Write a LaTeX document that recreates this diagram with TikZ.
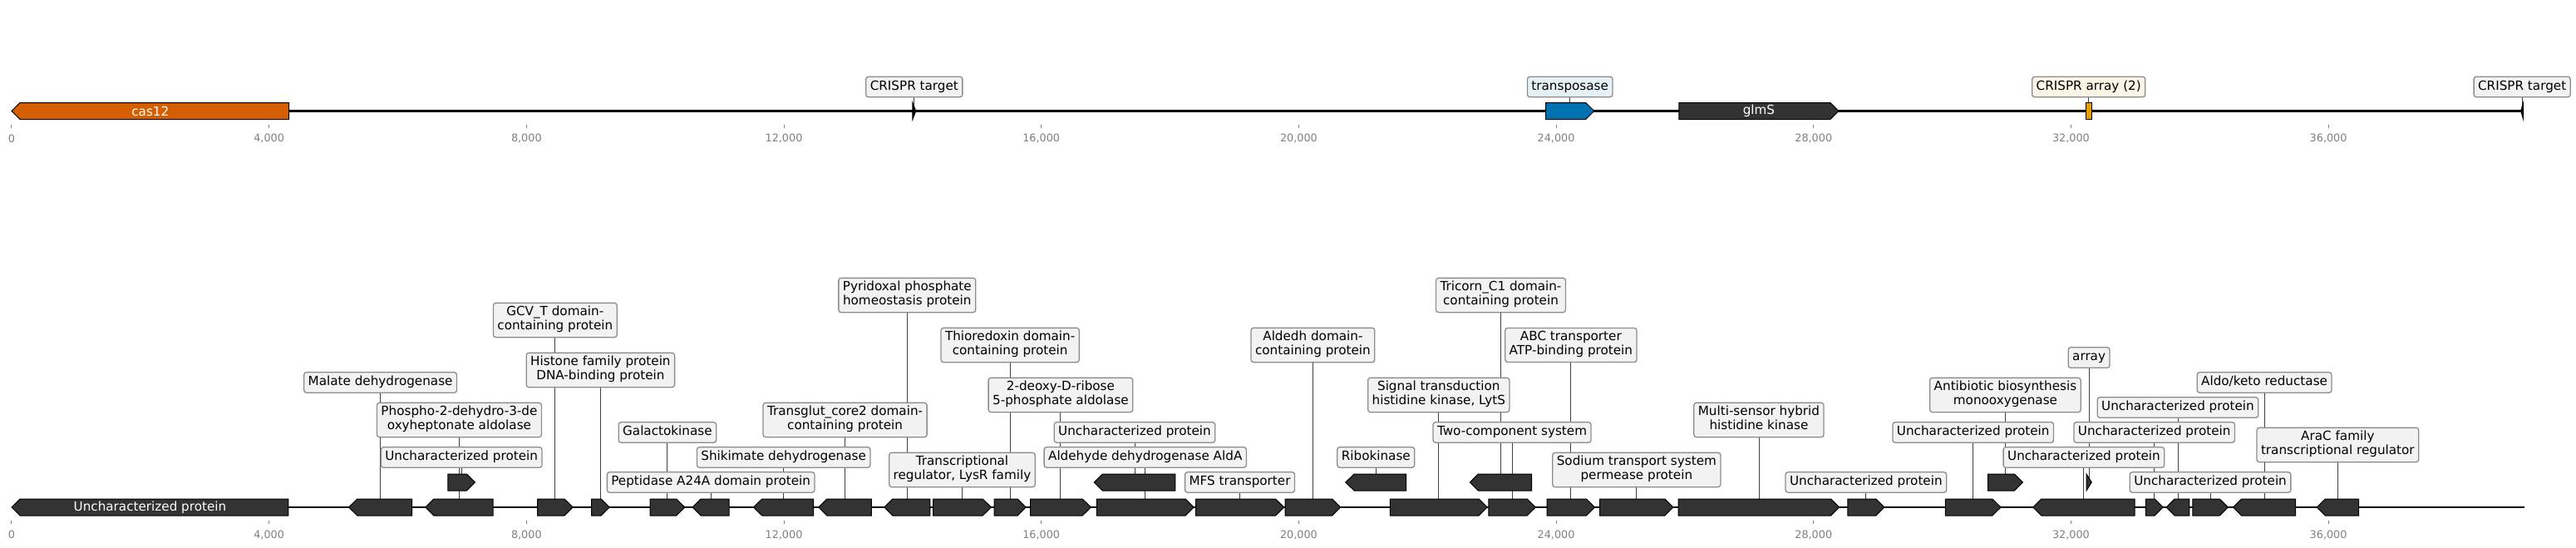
\documentclass[tikz,border=0pt]{standalone}
\usepackage{fontspec}
\setmainfont{DejaVu Sans}
\usetikzlibrary{positioning,calc}
\definecolor{genedark}{HTML}{333333}
\definecolor{casorange}{HTML}{D55E00}
\definecolor{tnpblue}{HTML}{0072B2}
\definecolor{arrayyellow}{HTML}{E69F00}
\pgfdeclarelayer{back}
\pgfsetlayers{back,main}

\begin{document}
\begin{tikzpicture}[x=77.42pt,y=-1pt,font=\fontsize{15.2}{17.5}\selectfont,
  track/.style={line width=2.5pt},
  gene/.style={draw=black,line width=1pt},
  lab/.style={draw=black!45,fill=black!5,line width=1.3pt,rounded corners=3pt,align=center,
    inner xsep=5pt,inner ysep=3.5pt,execute at begin node=\strut,execute at end node=\strut},
  stem/.style={draw=black!75,line width=0.9pt},
  tickmark/.style={draw=black!50,line width=1pt},
  ticklab/.style={text=black!50,font=\fontsize{12.8}{15}\selectfont},
  inlab/.style={text=white}]
\useasboundingbox (-0.1808,0) rectangle (39.848,659);

% axis ticks of both tracks (kb)
\foreach \k/\klab in {0/0,4/{4,000},8/{8,000},12/{12,000},16/{16,000},20/{20,000},24/{24,000},28/{28,000},32/{32,000},36/{36,000}}{
  \draw[tickmark] (\k,150) -- (\k,154);
  \node[ticklab] (topt\k) at (\k,166.5) {\klab};
  \draw[tickmark] (\k,626) -- (\k,630);
  \node[ticklab] (bott\k) at (\k,643) {\klab};
}

% top track
\draw[track] (0,133.5) -- (39.03,133.5);
\foreach \gstart/\gend/\gdir/\gname/\gcol in {0/4.31/-1/cas/casorange,14.00/14.05/1/tgtA/black,
  23.84/24.59/1/tnp/tnpblue,25.91/28.39/1/glms/genedark,32.23/32.32/0/arr/arrayyellow,38.99/39.03/-1/tgtB/black}{
  \pgfmathsetmacro\tip{min(0.13,\gend-\gstart)}
  \ifnum\gdir>0
    \draw[gene,fill=\gcol] (\gstart,123.5) -- (\gend-\tip,123.5) -- (\gend,133.5) -- (\gend-\tip,143.5) -- (\gstart,143.5) -- cycle;
  \else\ifnum\gdir<0
    \draw[gene,fill=\gcol] (\gend,123.5) -- (\gstart+\tip,123.5) -- (\gstart,133.5) -- (\gstart+\tip,143.5) -- (\gend,143.5) -- cycle;
  \else
    \draw[gene,fill=\gcol] (\gstart,123.5) rectangle (\gend,143.5);
  \fi\fi
  \coordinate (\gname) at ({(\gstart+\gend)/2},133.5);
}
\node[inlab] (casname) at (cas) {cas12};
\node[inlab] (glmsname) at (glms) {glmS};

\node[lab] (LtgtA) at (tgtA |- 0,104.5) {CRISPR target};
\node[lab,fill=tnpblue!10] (Ltnp) at (tnp |- 0,104.5) {transposase};
\node[lab,fill=arrayyellow!10] (Larr) at (arr |- 0,104.5) {CRISPR array (2)};
\node[lab] (LtgtB) at (tgtB |- 0,104.5) {CRISPR target};

% bottom track
\draw[track] (0,610) -- (39.05,610);
\foreach \gstart/\gend/\gdir/\grow/\gname in {0/4.30/-1/610/g1,5.24/6.22/-1/610/g2,6.43/7.48/-1/610/g3,
  8.17/8.72/1/610/g4,9.01/9.29/1/610/g5,9.92/10.46/1/610/g6,10.58/11.15/-1/610/g7,11.53/12.46/-1/610/g8,
  12.54/13.36/-1/610/g9,13.56/14.27/-1/610/g10,14.32/15.22/1/610/g11,15.27/15.76/1/610/g12,
  15.83/16.77/1/610/g13,16.86/18.37/1/610/g14,18.40/19.77/1/610/g15,19.79/20.65/1/610/g16,
  21.42/22.93/1/610/g17,22.95/23.68/1/610/g18,23.86/24.60/1/610/g19,24.68/25.82/1/610/g20,
  25.90/28.40/1/610/g21,28.53/29.10/1/610/g22,30.05/30.91/1/610/g23,31.41/32.99/-1/610/g24,
  33.16/33.43/1/610/g25,33.48/33.84/-1/610/g26,33.89/34.44/1/610/g27,34.52/35.49/-1/610/g28,
  35.82/36.47/-1/610/g29,
  6.78/7.20/1/580/r1,16.82/18.08/-1/580/r2,20.73/21.67/-1/580/r3,22.66/23.62/-1/580/r4,
  30.71/31.25/1/580/r5,32.24/32.32/1/580/r6}{
  \pgfmathsetmacro\tip{min(0.13,\gend-\gstart)}
  \ifnum\gdir>0
    \draw[gene,fill=genedark] (\gstart,\grow-10) -- (\gend-\tip,\grow-10) -- (\gend,\grow) -- (\gend-\tip,\grow+10) -- (\gstart,\grow+10) -- cycle;
  \else
    \draw[gene,fill=genedark] (\gend,\grow-10) -- (\gstart+\tip,\grow-10) -- (\gstart,\grow) -- (\gstart+\tip,\grow+10) -- (\gend,\grow+10) -- cycle;
  \fi
  \coordinate (\gname) at ({(\gstart+\gend)/2},\grow);
}
\node[inlab] (g1name) at (g1) {Uncharacterized protein};

\node[lab] (Lg2) at (g2 |- 0,460) {Malate dehydrogenase};
\node[lab] (Lg3) at (g3 |- 0,505) {Phospho-2-dehydro-3-de\\oxyheptonate aldolase};
\node[lab] (Lr1) at (r1 |- 0,550) {Uncharacterized protein};
\node[lab] (Lg4) at (g4 |- 0,385) {GCV\_T domain-\\containing protein};
\node[lab] (Lg5) at (g5 |- 0,445) {Histone family protein\\DNA-binding protein};
\node[lab] (Lg6) at (g6 |- 0,520) {Galactokinase};
\node[lab] (Lg7) at (g7 |- 0,580) {Peptidase A24A domain protein};
\node[lab] (Lg8) at (g8 |- 0,550) {Shikimate dehydrogenase};
\node[lab] (Lg9) at (g9 |- 0,505) {Transglut\_core2 domain-\\containing protein};
\node[lab] (Lg10) at (g10 |- 0,355) {Pyridoxal phosphate\\homeostasis protein};
\node[lab] (Lg11) at (g11 |- 0,565) {Transcriptional\\regulator, LysR family};
\node[lab] (Lg12) at (g12 |- 0,415) {Thioredoxin domain-\\containing protein};
\node[lab] (Lg13) at (g13 |- 0,475) {2-deoxy-D-ribose\\5-phosphate aldolase};
\node[lab] (Lr2) at (r2 |- 0,520) {Uncharacterized protein};
\node[lab] (Lg14) at (g14 |- 0,550) {Aldehyde dehydrogenase AldA};
\node[lab] (Lg15) at (g15 |- 0,580) {MFS transporter};
\node[lab] (Lg16) at (g16 |- 0,415) {Aldedh domain-\\containing protein};
\node[lab] (Lr3) at (r3 |- 0,550) {Ribokinase};
\node[lab] (Lg17) at (g17 |- 0,475) {Signal transduction\\histidine kinase, LytS};
\node[lab] (Lr4) at (r4 |- 0,355) {Tricorn\_C1 domain-\\containing protein};
\node[lab] (Lg18) at (g18 |- 0,520) {Two-component system};
\node[lab] (Lg19) at (g19 |- 0,415) {ABC transporter\\ATP-binding protein};
\node[lab] (Lg20) at (g20 |- 0,565) {Sodium transport system\\permease protein};
\node[lab] (Lg21) at (g21 |- 0,505) {Multi-sensor hybrid\\histidine kinase};
\node[lab] (Lg22) at (g22 |- 0,580) {Uncharacterized protein};
\node[lab] (Lg23) at (g23 |- 0,520) {Uncharacterized protein};
\node[lab] (Lr5) at (r5 |- 0,475) {Antibiotic biosynthesis\\monooxygenase};
\node[lab] (Lg24) at (g24 |- 0,550) {Uncharacterized protein};
\node[lab] (Lr6) at (r6 |- 0,430) {array};
\node[lab] (Lg25) at (g25 |- 0,520) {Uncharacterized protein};
\node[lab] (Lg26) at (g26 |- 0,490) {Uncharacterized protein};
\node[lab] (Lg27) at (g27 |- 0,580) {Uncharacterized protein};
\node[lab] (Lg28) at (g28 |- 0,460) {Aldo/keto reductase};
\node[lab] (Lg29) at (g29 |- 0,535) {AraC family\\transcriptional regulator};

% label stems, behind boxes and genes
\begin{pgfonlayer}{back}
\foreach \gname in {tgtA,tnp,arr,tgtB,g2,g3,r1,g4,g5,g6,g7,g8,g9,g10,g11,g12,g13,r2,g14,g15,g16,r3,
  g17,r4,g18,g19,g20,g21,g22,g23,r5,g24,r6,g25,g26,g27,g28,g29}
  \draw[stem] (L\gname) -- (\gname);
\end{pgfonlayer}

\end{tikzpicture}
\end{document}
